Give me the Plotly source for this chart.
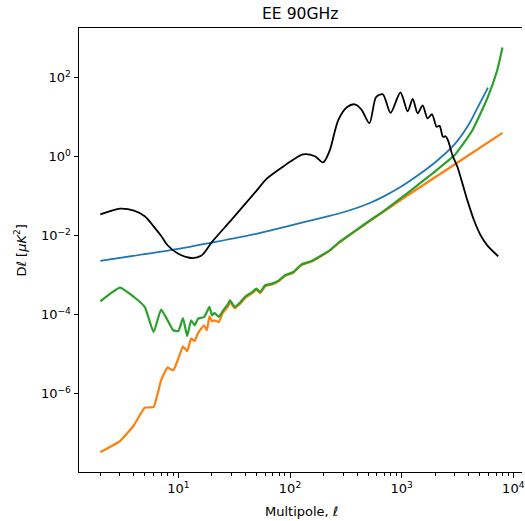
import plotly.graph_objects as go

# ---- data ----
ell_cmb = [2, 2.5, 3, 4, 5, 6, 7, 8, 10, 13, 16, 20, 30, 50, 62, 90, 100, 131, 167, 198,
           227, 270, 325, 380, 435, 514, 591, 679, 795, 975, 1133, 1256, 1391, 1541,
           1708, 1871, 2054, 2185, 2346, 2470, 2601, 2851, 3162, 3506, 3882, 4449,
           5096, 5843, 7328]
D_cmb = [0.0346, 0.0425, 0.048, 0.043, 0.031, 0.0172, 0.0099, 0.0057, 0.00346, 0.00271,
         0.00308, 0.0069, 0.0254, 0.136, 0.277, 0.60, 0.74, 1.14, 1.02, 0.71,
         1.44, 8.3, 18.0, 21.1, 15.7, 7.0, 32.3, 37.8, 12.8, 42.0, 14.0, 29.0, 12.5, 19.9,
         9.3, 11.8, 5.7, 6.0, 3.17, 3.27, 2.59, 1.08, 0.545, 0.207, 0.078, 0.0244,
         0.0102, 0.00568, 0.0030]

ell_blue = [2, 10, 20, 50, 100, 200, 300, 500, 700, 1000, 1400, 2000, 3000, 4000, 5000, 5930]
D_blue = [2.30e-3, 4.63e-3, 6.65e-3, 0.0111, 0.018, 0.029, 0.039, 0.064, 0.100, 0.177,
          0.336, 0.72, 2.1, 6.6, 22.0, 55.8]

ell_orange = [2, 3, 4, 5, 6, 7, 8, 9, 10, 11, 12, 13, 14, 15, 17, 18, 19, 20, 21, 23, 25,
              28, 29, 32, 36, 40, 46, 50, 54, 60, 69, 79, 90, 107, 127, 156, 192, 227,
              270, 354, 500, 703, 1133, 2754, 8000]
D_orange = [3.32e-8, 6.3e-8, 1.58e-7, 4.4e-7, 4.58e-7, 2.17e-6, 4.55e-6, 3.89e-6, 7.7e-6,
            1.57e-5, 1.18e-5, 2.47e-5, 2.15e-5, 3.42e-5, 5.36e-5, 4.0e-5, 9.05e-5, 6.8e-5,
            7.2e-5, 6.5e-5, 1.1e-4, 1.62e-4, 2.1e-4, 1.45e-4, 1.9e-4, 2.7e-4, 3.5e-4,
            4.2e-4, 3.5e-4, 5.2e-4, 5.8e-4, 7.0e-4, 9.5e-4, 1.15e-3, 1.8e-3, 2.2e-3,
            3.1e-3, 4.15e-3, 6.3e-3, 0.0110, 0.0218, 0.042, 0.105, 0.545, 4.0]

ell_green = [2, 3, 4, 5, 6, 7, 8, 9, 10, 11, 12, 13, 14, 15, 17, 19, 20, 21, 23, 25, 28,
             29, 32, 36, 40, 46, 50, 54, 60, 69, 79, 90, 107, 127, 156, 192, 227, 270,
             354, 500, 703, 1213, 1960, 3000, 4295, 5850, 7180, 8000]
D_green = [2.17e-4, 4.83e-4, 2.79e-4, 1.56e-4, 3.62e-5, 1.34e-4, 7.18e-5, 4.01e-5, 3.84e-5,
           8.2e-5, 2.87e-5, 7.18e-5, 5.36e-5, 7.9e-5, 8.7e-5, 1.56e-4, 9.6e-5, 1.10e-4,
           8.7e-5, 1.23e-4, 1.90e-4, 2.30e-4, 1.56e-4, 2.08e-4, 2.90e-4, 3.73e-4, 4.55e-4,
           3.73e-4, 5.52e-4, 6.09e-4, 7.26e-4, 9.89e-4, 1.20e-3, 1.87e-3, 2.27e-3, 3.17e-3,
           4.25e-3, 6.5e-3, 0.01124, 0.0224, 0.0438, 0.140, 0.407, 1.11, 4.6, 29.9, 153, 575]

x_major = [10, 100, 1000, 10000]
x_major_text = ["10<sup>1</sup>", "10<sup>2</sup>", "10<sup>3</sup>", "10<sup>4</sup>"]
x_minor = [m * 10 ** e for e in range(0, 4) for m in range(2, 10)]
y_major = [1e-6, 1e-4, 1e-2, 1, 1e2]
y_major_text = ["10<sup>\u22126</sup>", "10<sup>\u22124</sup>", "10<sup>\u22122</sup>",
                "10<sup>0</sup>", "10<sup>2</sup>"]

FONT = "DejaVu Sans"

fig = go.Figure()
fig.add_trace(go.Scatter(x=ell_blue, y=D_blue, mode="lines",
                         line=dict(color="#1f77b4", width=1.8, shape="spline", smoothing=0.8)))
fig.add_trace(go.Scatter(x=ell_orange, y=D_orange, mode="lines",
                         line=dict(color="#ff7f0e", width=2.2, shape="spline", smoothing=0.4)))
fig.add_trace(go.Scatter(x=ell_green, y=D_green, mode="lines",
                         line=dict(color="#2ca02c", width=2.2, shape="spline", smoothing=0.4)))
fig.add_trace(go.Scatter(x=ell_cmb, y=D_cmb, mode="lines",
                         line=dict(color="black", width=1.8, shape="spline", smoothing=0.8)))

fig.update_layout(
    width=525, height=521,
    margin=dict(l=79, r=0, t=28, b=49),
    paper_bgcolor="white", plot_bgcolor="white",
    showlegend=False,
    font=dict(family=FONT, size=13, color="black"),
    xaxis=dict(type="log", range=[0.110, 4.078], showgrid=False, zeroline=False,
               showline=True, linecolor="black", linewidth=1, mirror=True,
               ticks="outside", ticklen=4.5, tickwidth=1, tickcolor="black",
               tickvals=x_major, ticktext=x_major_text, ticklabeloverflow="allow",
               tickfont=dict(family=FONT, size=13, color="black"),
               minor=dict(tickvals=x_minor, ticks="outside", ticklen=2.5,
                          tickwidth=0.8, tickcolor="black", showgrid=False)),
    yaxis=dict(type="log", range=[-7.985, 3.256], showgrid=False, zeroline=False,
               showline=True, linecolor="black", linewidth=1, mirror=False,
               ticks="outside", ticklen=4.5, tickwidth=1, tickcolor="black",
               tickvals=y_major, ticktext=y_major_text,
               tickfont=dict(family=FONT, size=13, color="black")),
    annotations=[
        dict(text="EE 90GHz", xref="paper", yref="paper", x=0.5, y=1.031,
             xanchor="center", yanchor="middle", showarrow=False,
             font=dict(family=FONT, size=15.6, color="black")),
        dict(text="Multipole, \u2113", xref="paper", yref="paper", x=0.502, y=-0.090,
             xanchor="center", yanchor="middle", showarrow=False,
             font=dict(family=FONT, size=13, color="black")),
        dict(text="D\u2113 [<i>\u03bcK</i><sup>2</sup>]", xref="paper", yref="paper",
             x=-0.1323, y=0.5, xanchor="center", yanchor="middle", textangle=-90,
             showarrow=False, font=dict(family=FONT, size=13, color="black")),
    ],
)

fig.write_html("out.html", config={"displayModeBar": False},
               post_script="document.body.style.margin='0';document.body.style.padding='0';")
